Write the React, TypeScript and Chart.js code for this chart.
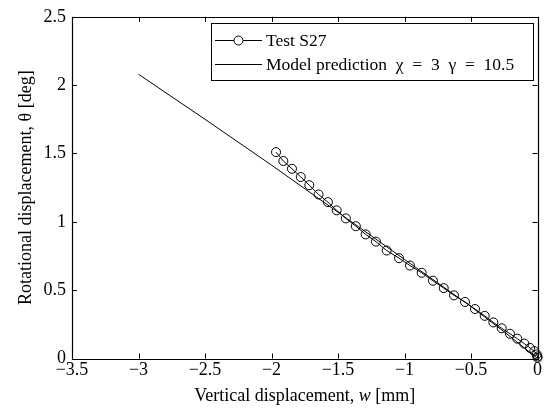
import React, { useEffect, useRef } from "react";
import { Chart, registerables } from "chart.js";

Chart.register(...registerables);

const testX = [-1.966, -1.911, -1.846, -1.78, -1.716, -1.646, -1.576, -1.51, -1.441, -1.366, -1.292, -1.215, -1.134, -1.041, -0.959, -0.871, -0.786, -0.705, -0.628, -0.545, -0.47, -0.397, -0.332, -0.269, -0.207, -0.152, -0.099, -0.056, -0.024, -0.006, 0, 0];
const testY = [1.51, 1.445, 1.388, 1.328, 1.268, 1.2, 1.144, 1.084, 1.025, 0.968, 0.908, 0.855, 0.79, 0.734, 0.68, 0.627, 0.569, 0.515, 0.462, 0.414, 0.362, 0.312, 0.264, 0.221, 0.181, 0.145, 0.109, 0.077, 0.054, 0.03, 0.015, 0.005];

const modelX = [-3, -2.5, -2, -1.5, -1, -0.5, -0.25, 0];
const modelY = [2.08, 1.75, 1.415, 1.07, 0.725, 0.38, 0.195, 0];

const legendLabels = ["Test S27", "Model prediction\u2002\u03C7\u2002=\u20023\u2002\u03B3\u2002=\u200210.5"];
const xTitleParts = ["Vertical displacement, ", "w", " [mm]"];
const yTitle = "Rotational displacement, \u03B8 [deg]";

const FONT = "'Liberation Serif', 'DejaVu Serif', serif";

const fmt = (v: number) => {
  const r = Math.round(v * 10) / 10;
  if (r === 0) return "0";
  return (r < 0 ? "\u2212" : "") + String(Math.abs(r));
};

const framePlugin = {
  id: "frame",
  afterDraw(chart: any) {
    const { ctx, chartArea: a, scales } = chart;
    const xs = scales.x;
    const ys = scales.y;
    ctx.save();
    ctx.strokeStyle = "#000";
    ctx.lineWidth = 1.2;
    ctx.beginPath();
    ctx.rect(Math.round(a.left) + 0.5, Math.round(a.top) + 0.5, Math.round(a.right - a.left), Math.round(a.bottom - a.top));
    ctx.stroke();
    ctx.lineWidth = 1;
    const tl = 5;
    ctx.beginPath();
    xs.ticks.forEach((t: any) => {
      const px = Math.round(xs.getPixelForValue(t.value)) + 0.5;
      ctx.moveTo(px, a.bottom);
      ctx.lineTo(px, a.bottom - tl);
      ctx.moveTo(px, a.top);
      ctx.lineTo(px, a.top + tl);
    });
    ys.ticks.forEach((t: any) => {
      const py = Math.round(ys.getPixelForValue(t.value)) + 0.5;
      ctx.moveTo(a.left, py);
      ctx.lineTo(a.left + tl, py);
      ctx.moveTo(a.right, py);
      ctx.lineTo(a.right - tl, py);
    });
    ctx.stroke();

    // x title with italic w
    ctx.fillStyle = "#000";
    ctx.textBaseline = "alphabetic";
    const normal = `18px ${FONT}`;
    const italic = `italic 18px ${FONT}`;
    const widths = xTitleParts.map((p, i) => {
      ctx.font = i === 1 ? italic : normal;
      return ctx.measureText(p).width;
    });
    const total = widths.reduce((s, w) => s + w, 0);
    let x = (a.left + a.right) / 2 - total / 2;
    const y = a.bottom + 42;
    xTitleParts.forEach((p, i) => {
      ctx.font = i === 1 ? italic : normal;
      ctx.textAlign = "left";
      ctx.fillText(p, x, y);
      x += widths[i];
    });

    // legend
    const lx = 211.5, ly = 23.5, lw = 322, lh = 57;
    ctx.fillStyle = "#fff";
    ctx.fillRect(lx, ly, lw, lh);
    ctx.strokeStyle = "#000";
    ctx.strokeRect(lx, ly, lw, lh);
    const rows = [40, 64];
    ctx.lineWidth = 1;
    rows.forEach((ry, i) => {
      ctx.beginPath();
      ctx.moveTo(215, ry + 0.5);
      ctx.lineTo(262, ry + 0.5);
      ctx.stroke();
      if (i === 0) {
        ctx.beginPath();
        ctx.arc(238.5, ry + 0.5, 4.5, 0, Math.PI * 2);
        ctx.fillStyle = "#fff";
        ctx.fill();
        ctx.stroke();
      }
      ctx.fillStyle = "#000";
      ctx.font = `17.5px ${FONT}`;
      ctx.textAlign = "left";
      ctx.textBaseline = "middle";
      ctx.fillText(legendLabels[i], 266, ry + 1);
    });
    ctx.restore();
  },
};

export default function App() {
  const ref = useRef<HTMLCanvasElement>(null);
  useEffect(() => {
    if (!ref.current) return;
    const chart = new Chart(ref.current, {
      type: "scatter",
      data: {
        datasets: [
          {
            label: legendLabels[0],
            data: testX.map((x, i) => ({ x, y: testY[i] })),
            showLine: true,
            borderColor: "#000",
            borderWidth: 1,
            backgroundColor: "rgba(0,0,0,0)",
            pointRadius: 4.5,
            pointBorderWidth: 1,
            pointBorderColor: "#000",
            pointBackgroundColor: "rgba(0,0,0,0)",
            clip: false as any,
          },
          {
            label: legendLabels[1],
            data: modelX.map((x, i) => ({ x, y: modelY[i] })),
            showLine: true,
            borderColor: "#000",
            borderWidth: 1,
            pointRadius: 0,
          },
        ],
      },
      options: {
        responsive: false,
        animation: false,
        events: [],
        layout: { padding: { top: 10, right: 13.5, left: 0, bottom: 0 } },
        plugins: { legend: { display: false }, tooltip: { enabled: false } },
        scales: {
          x: {
            type: "linear",
            min: -3.5,
            max: 0,
            border: { display: false },
            grid: { display: false, drawTicks: false },
            ticks: {
              stepSize: 0.5,
              padding: 1,
              color: "#000",
              font: { family: FONT, size: 18 },
              maxRotation: 0,
              callback: (v: any) => fmt(Number(v)),
            },
            afterFit: (s: any) => {
              s.height = 49.5;
            },
          },
          y: {
            type: "linear",
            min: 0,
            max: 2.5,
            border: { display: false },
            grid: { display: false, drawTicks: false },
            ticks: {
              stepSize: 0.5,
              padding: 6,
              color: "#000",
              font: { family: FONT, size: 18 },
              callback: (v: any) => fmt(Number(v)),
            },
            title: {
              display: true,
              text: yTitle,
              color: "#000",
              font: { family: FONT, size: 18 },
              padding: { top: 15, bottom: 0 },
            },
            afterFit: (s: any) => {
              s.width = 72;
            },
          },
        },
      },
      plugins: [framePlugin],
    });
    return () => chart.destroy();
  }, []);
  return (
    <div style={{ position: "fixed", left: 0, top: 0, width: 551, height: 408, background: "#fff" }}>
      <canvas ref={ref} width={551} height={408} style={{ display: "block" }} />
    </div>
  );
}
